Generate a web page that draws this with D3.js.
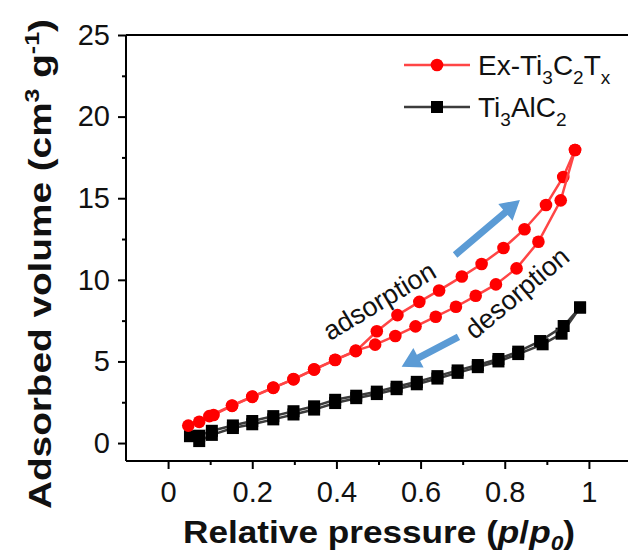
<!DOCTYPE html>
<html><head><meta charset="utf-8">
<script src="https://cdn.jsdelivr.net/npm/d3@7"></script>
<style>body{margin:0;background:#fff}svg{display:block;font-family:Arial,"Liberation Sans",sans-serif}</style>
</head><body>
<svg id="c" width="628" height="554"></svg>
<script>
// ---- data ----
const exAdsP = [0.048,0.074,0.098,0.152,0.2,0.25,0.298,0.347,0.397,0.446,0.496,0.545,0.597,0.644,0.698,0.745,0.797,0.847,0.898,0.939,0.967];
const exAdsV = [1.07,1.3,1.65,2.3,2.85,3.4,3.9,4.5,5.09,5.63,6.85,7.84,8.65,9.35,10.2,10.97,11.95,13.1,14.58,16.3,17.95];
const exDesP = [0.967,0.933,0.880,0.828,0.779,0.731,0.684,0.636,0.588,0.540,0.492,0.446,0.397,0.347,0.298,0.25,0.2,0.152,0.108];
const exDesV = [17.95,14.87,12.33,10.7,9.72,9.02,8.35,7.74,7.15,6.56,6.03,5.66,5.1,4.52,3.92,3.38,2.83,2.28,1.72];
const maxAdsP = [0.052,0.074,0.104,0.154,0.2,0.25,0.298,0.347,0.397,0.447,0.496,0.543,0.591,0.64,0.688,0.736,0.785,0.832,0.89,0.935,0.979];
const maxAdsV = [0.42,0.12,0.5,0.92,1.15,1.45,1.75,2.05,2.45,2.75,3.0,3.3,3.6,3.95,4.3,4.65,5.0,5.45,6.05,6.7,8.3];
const maxDesP = [0.979,0.94,0.884,0.832,0.785,0.736,0.688,0.64,0.591,0.543,0.496,0.447,0.397,0.347,0.298,0.25,0.2,0.154,0.104,0.074];
const maxDesV = [8.31,7.17,6.25,5.6,5.15,4.78,4.45,4.1,3.75,3.45,3.15,2.9,2.65,2.25,1.95,1.65,1.35,1.08,0.75,0.45];
const xTicks = [0,0.2,0.4,0.6,0.8,1];
const xTickLabels = ["0","0.2","0.4","0.6","0.8","1"];
const xMinor = [0.1,0.3,0.5,0.7,0.9];
const yTicks = [0,5,10,15,20,25];
const yMinor = [2.5,7.5,12.5,17.5,22.5];
const arrows = [ {from:[0.682,11.52], to:[0.836,14.89]}, {from:[0.690,6.51], to:[0.555,4.68]} ];
const notes = [ {text:"adsorption", at:[0.513,8.23], angle:-31}, {text:"desorption", at:[0.843,8.76], angle:-40} ];

// ---- scales ----
const svg = d3.select("#c");
const x = d3.scaleLinear().domain([-0.1,1.1]).range([126,631]);
const y = d3.scaleLinear().domain([-1.1,25]).range([461,35]);

const zip = (a,b)=>a.map((v,i)=>[v,b[i]]);
const line = d3.line().x(d=>x(d[0])).y(d=>y(d[1]));

// axes
const gx = svg.append("g").attr("transform",`translate(0,${y.range()[0]})`)
  .call(d3.axisBottom(x).tickValues(xTicks).tickFormat((d,i)=>xTickLabels[i]).tickSize(8).tickPadding(5));
svg.append("g").attr("transform",`translate(0,${y.range()[0]})`)
  .call(d3.axisBottom(x).tickValues(xMinor).tickFormat("").tickSize(4)).select(".domain").remove();
const gy = svg.append("g").attr("transform",`translate(${x.range()[0]},0)`)
  .call(d3.axisLeft(y).tickValues(yTicks).tickSize(8).tickPadding(8));
svg.append("g").attr("transform",`translate(${x.range()[0]},0)`)
  .call(d3.axisLeft(y).tickValues(yMinor).tickFormat("").tickSize(4)).select(".domain").remove();
svg.selectAll(".domain").attr("stroke","#000").attr("stroke-width",2);
svg.selectAll(".tick line").attr("stroke","#000").attr("stroke-width",2);
svg.selectAll(".tick text").attr("font-size",29).attr("fill","#111").attr("font-family","Arial,'Liberation Sans',sans-serif");
gx.selectAll(".tick text").attr("dy","0.95em");
// top frame
svg.append("line").attr("x1",x(-0.1)).attr("x2",x(1.1)).attr("y1",y(25)).attr("y2",y(25)).attr("stroke","#000").attr("stroke-width",2);
gx.select(".domain").attr("d",`M${x(-0.1)},0H${x(1.1)}`);
gy.select(".domain").attr("d",`M0,${y(-1.1)}V${y(25)}`);

// series
function series(P,V,color,lineColor,shape){
  const d = zip(P,V);
  svg.append("path").datum(d).attr("d",line).attr("fill","none").attr("stroke",lineColor).attr("stroke-width",2.5);
  if(shape==="circle"){
    svg.append("g").selectAll("circle").data(d).join("circle").attr("cx",p=>x(p[0])).attr("cy",p=>y(p[1])).attr("r",6.3).attr("fill",color);
  } else {
    svg.append("g").selectAll("rect").data(d).join("rect").attr("x",p=>x(p[0])-6).attr("y",p=>y(p[1])-6).attr("width",12).attr("height",12).attr("fill",color);
  }
}
series(maxAdsP,maxAdsV,"#000","#3c3c3c","square");
series(maxDesP,maxDesV,"#000","#3c3c3c","square");
series(exAdsP,exAdsV,"#ff0000","#ff4545","circle");
series(exDesP,exDesV,"#ff0000","#ff4545","circle");

// arrows
arrows.forEach(a=>{
  const x0=x(a.from[0]),y0=y(a.from[1]),x1=x(a.to[0]),y1=y(a.to[1]);
  const L=Math.hypot(x1-x0,y1-y0), ux=(x1-x0)/L, uy=(y1-y0)/L, nx=-uy, ny=ux;
  const sw=3.5, hw=11, hl=19;
  const bx=x1-ux*hl, by=y1-uy*hl;
  const pts=[[x0+nx*sw,y0+ny*sw],[bx+nx*sw,by+ny*sw],[bx+nx*hw,by+ny*hw],[x1,y1],[bx-nx*hw,by-ny*hw],[bx-nx*sw,by-ny*sw],[x0-nx*sw,y0-ny*sw]];
  svg.append("polygon").attr("points",pts.map(p=>p.join(",")).join(" ")).attr("fill","#5b9bd5");
});
notes.forEach(n=>{
  svg.append("text").attr("transform",`translate(${x(n.at[0])},${y(n.at[1])}) rotate(${n.angle})`)
    .attr("text-anchor","middle").attr("font-size",27).attr("fill","#111").text(n.text);
});

// legend
const leg = [{label:[["Ex-Ti",0],["3",1],["C",0],["2",1],["T",0],["x",1]], color:"#ff0000", lc:"#ff4545", shape:"circle", y:65},
             {label:[["Ti",0],["3",1],["AlC",0],["2",1]], color:"#000", lc:"#3c3c3c", shape:"square", y:107}];
leg.forEach(l=>{
  svg.append("line").attr("x1",404).attr("x2",470).attr("y1",l.y).attr("y2",l.y).attr("stroke",l.lc).attr("stroke-width",2.5);
  if(l.shape==="circle") svg.append("circle").attr("cx",437).attr("cy",l.y).attr("r",6.3).attr("fill",l.color);
  else svg.append("rect").attr("x",431).attr("y",l.y-6).attr("width",12).attr("height",12).attr("fill",l.color);
  const t = svg.append("text").attr("x",478).attr("y",l.y+10).attr("font-size",28).attr("fill","#111");
  let prev=0;
  l.label.forEach(([s,sub])=>{
    const dy = sub? (prev?0:9) : (prev?-9:0);
    t.append("tspan").attr("dy",dy).attr("font-size",sub?19:28).text(s);
    prev=sub;
  });
});

// axis titles
const xt = svg.append("text").attr("x",379).attr("y",543).attr("text-anchor","middle").attr("font-size",31).attr("font-weight","bold").attr("fill","#111")
  .attr("textLength",392).attr("lengthAdjust","spacingAndGlyphs");
xt.append("tspan").text("Relative pressure (");
xt.append("tspan").attr("font-style","italic").text("p");
xt.append("tspan").text("/");
xt.append("tspan").attr("font-style","italic").text("p");
xt.append("tspan").attr("font-style","italic").attr("font-size",20).attr("dy",7).text("0");
xt.append("tspan").attr("dy",-7).text(")");

const yt = svg.append("text").attr("transform","translate(51,264) rotate(-90)").attr("text-anchor","middle").attr("font-size",31).attr("font-weight","bold").attr("fill","#111")
  .attr("textLength",490).attr("lengthAdjust","spacingAndGlyphs");
yt.append("tspan").text("Adsorbed volume (cm");
yt.append("tspan").attr("font-size",20).attr("dy",-12).text("3");
yt.append("tspan").attr("dy",12).text(" g");
yt.append("tspan").attr("font-size",20).attr("dy",-12).text("-1");
yt.append("tspan").attr("dy",12).text(")");
</script>
</body></html>
